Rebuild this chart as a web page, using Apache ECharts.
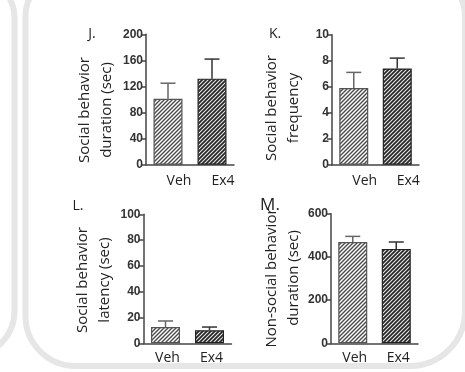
<!DOCTYPE html>
<html><head><meta charset="utf-8">
<script src="https://cdn.jsdelivr.net/npm/echarts@6/dist/echarts.min.js"></script>
<style>html,body{margin:0;padding:0;background:#fff}#c{width:465px;height:372px}</style>
</head><body><div id="c"></div>
<script>
// ---- data ----
const categories = ['Veh', 'Ex4'];
const durationMean = [101, 132];
const durationErr = [24, 30];
const frequencyMean = [5.9, 7.4];
const frequencyErr = [1.2, 0.8];
const latencyMean = [12.6, 10.1];
const latencyErr = [4.7, 2.5];
const nonSocialMean = [469, 437];
const nonSocialErr = [26, 32];
const panelLetters = ['J.', 'K.', 'L.', 'M.'];
const yTitles = ['Social behavior\nduration (sec)', 'Social behavior\nfrequency', 'Social behavior\nlatency (sec)', 'Non-social behavior\nduration (sec)'];

function makePattern(bg, fg, lw) {
  const s = 4;
  const cv = document.createElement('canvas');
  cv.width = s; cv.height = s;
  const ctx = cv.getContext('2d');
  ctx.fillStyle = bg; ctx.fillRect(0, 0, s, s);
  ctx.strokeStyle = fg; ctx.lineWidth = lw;
  ctx.beginPath();
  ctx.moveTo(-1, s + 1); ctx.lineTo(s + 1, -1);
  ctx.moveTo(-1, 1); ctx.lineTo(1, -1);
  ctx.moveTo(s - 1, s + 1); ctx.lineTo(s + 1, s - 1);
  ctx.stroke();
  return { image: cv, repeat: 'repeat' };
}
const vehFill = makePattern('#ffffff', '#4a4a4a', 1.4);
const ex4Fill = makePattern('#262626', '#e8e8e8', 1.1);
const barBorders = ['#555', '#222'];
const errColors = ['#666', '#333'];

const panels = [
  { mean: durationMean, err: durationErr, max: 200, interval: 40, grid: { left: 146, top: 34.3, width: 88, height: 130.4 }, labPad: 22, labMargin: 9 },
  { mean: frequencyMean, err: frequencyErr, max: 10, interval: 2, grid: { left: 332, top: 34.7, width: 87, height: 130 }, labPad: 22, labMargin: 9 },
  { mean: latencyMean, err: latencyErr, max: 100, interval: 20, grid: { left: 143.5, top: 214.3, width: 88, height: 129 }, labPad: 4, labMargin: 8 },
  { mean: nonSocialMean, err: nonSocialErr, max: 600, interval: 200, grid: { left: 331, top: 213.7, width: 87, height: 129.6 }, labPad: 4, labMargin: 8 }
];

const grids = [], xAxes = [], yAxes = [], series = [];
panels.forEach((p, i) => {
  grids.push(Object.assign({}, p.grid));
  xAxes.push({
    type: 'category', gridIndex: i, data: categories,
    axisTick: { show: false },
    axisLine: { lineStyle: { color: '#444', width: 1.5 } },
    axisLabel: { fontFamily: 'Open Sans', fontSize: 14, color: '#222', margin: p.labMargin, padding: [0, 0, 0, p.labPad] }
  });
  yAxes.push({
    type: 'value', gridIndex: i, min: 0, max: p.max, interval: p.interval,
    splitLine: { show: false },
    axisLine: { show: true, lineStyle: { color: '#444', width: 1.5 } },
    axisTick: { show: true, length: 5, lineStyle: { color: '#444', width: 1.5 } },
    axisLabel: { fontFamily: 'Liberation Sans', fontWeight: 'bold', fontSize: 12, color: '#333', margin: 3 }
  });
  series.push({
    type: 'bar', xAxisIndex: i, yAxisIndex: i, barWidth: 29, silent: true,
    data: p.mean.map((v, k) => ({ value: v, itemStyle: { color: k === 0 ? vehFill : ex4Fill, borderColor: barBorders[k], borderWidth: 1.2 } }))
  });
  series.push({
    type: 'custom', xAxisIndex: i, yAxisIndex: i, silent: true, z: 5,
    data: p.mean.map((v, k) => [k, v, p.err[k]]),
    encode: { x: 0, y: 1 },
    renderItem: function (params, api) {
      const k = api.value(0), m = api.value(1), e = api.value(2);
      const a = api.coord([k, m]);
      const b = api.coord([k, m + e]);
      const st = { stroke: errColors[k], lineWidth: 1.5 };
      return {
        type: 'group', children: [
          { type: 'line', shape: { x1: a[0], y1: a[1], x2: b[0], y2: b[1] }, style: st },
          { type: 'line', shape: { x1: b[0] - 7.5, y1: b[1], x2: b[0] + 7.5, y2: b[1] }, style: st }
        ]
      };
    }
  });
});

const letterPos = [[92, 34, 14], [275, 34, 14], [78, 206, 14], [270, 205, 17]];
const titlePos = [[96, 110], [283, 108], [94, 280], [283, 278]];
const graphic = [
  { type: 'rect', z: -10, shape: { x: 25.5, y: -24, width: 439.5, height: 390, r: [40, 40, 55, 50] }, style: { fill: 'none', stroke: '#e6e6e6', lineWidth: 6 } },
  { type: 'rect', z: -10, shape: { x: -200, y: -22, width: 214.5, height: 378, r: [0, 40, 45, 0] }, style: { fill: 'none', stroke: '#e6e6e6', lineWidth: 6 } }
];
panelLetters.forEach((t, i) => {
  graphic.push({ type: 'text', x: letterPos[i][0], y: letterPos[i][1], style: { text: t, fontFamily: 'Open Sans', fontSize: letterPos[i][2], fill: '#222', align: 'center', verticalAlign: 'middle' } });
  graphic.push({ type: 'text', x: titlePos[i][0], y: titlePos[i][1], rotation: Math.PI / 2, style: { text: yTitles[i], fontFamily: 'Open Sans', fontSize: 15, lineHeight: 22, fill: '#222', align: 'center', verticalAlign: 'middle' } });
});

const chart = echarts.init(document.getElementById('c'), null, { renderer: 'canvas' });
chart.setOption({ animation: false, backgroundColor: '#fff', grid: grids, xAxis: xAxes, yAxis: yAxes, series: series, graphic: graphic });
</script></body></html>
